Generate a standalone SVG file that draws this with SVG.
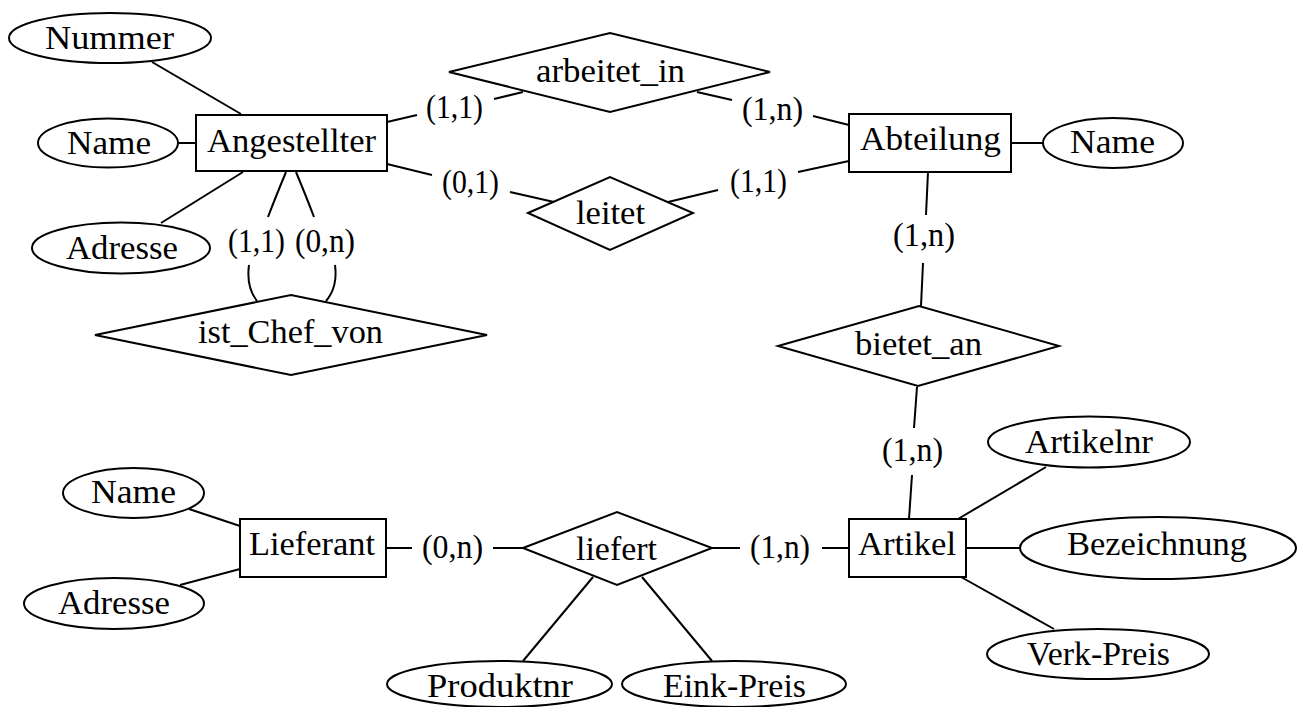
<svg xmlns="http://www.w3.org/2000/svg" width="1304" height="707" viewBox="0 0 1304 707">
<style>
.s{fill:#fff;stroke:#000;stroke-width:2}
.c line,.c path{stroke:#000;stroke-width:2;fill:none}
text{font-family:"Liberation Serif","Times New Roman",serif;font-size:33px;fill:#000;text-anchor:middle}
</style>
<rect width="1304" height="707" fill="#fff"/>
<g class="c" id="connectors">
<line x1="152" y1="62" x2="241" y2="114"/>
<line x1="178" y1="143" x2="196" y2="143"/>
<line x1="161" y1="223" x2="243" y2="172"/>
<path d="M286,172 Q276,196 268,217"/>
<path d="M249,265 Q246,287 257,301"/>
<path d="M296,172 Q306,196 314,217"/>
<path d="M335,265 Q338,287 326,301"/>
<line x1="387" y1="122" x2="417" y2="115"/>
<line x1="494" y1="99" x2="523" y2="92"/>
<line x1="697" y1="92" x2="732" y2="100"/>
<line x1="813" y1="116" x2="849" y2="125"/>
<line x1="387" y1="164" x2="432" y2="175"/>
<line x1="510" y1="192" x2="554" y2="202"/>
<line x1="668" y1="202" x2="718" y2="190"/>
<line x1="798" y1="172" x2="849" y2="161"/>
<line x1="1011" y1="143" x2="1043" y2="143"/>
<line x1="928" y1="172" x2="926" y2="215"/>
<line x1="923" y1="263" x2="921" y2="306"/>
<line x1="917" y1="387" x2="914" y2="428"/>
<line x1="912" y1="475" x2="909" y2="519"/>
<line x1="958" y1="519" x2="1046" y2="467"/>
<line x1="966" y1="548" x2="1020" y2="548"/>
<line x1="961" y1="577" x2="1054" y2="629"/>
<line x1="189" y1="509" x2="240" y2="526"/>
<line x1="180" y1="585" x2="240" y2="569"/>
<line x1="386" y1="548" x2="412" y2="548"/>
<line x1="493" y1="548" x2="523" y2="548"/>
<line x1="712" y1="548" x2="740" y2="548"/>
<line x1="822" y1="548" x2="849" y2="548"/>
<line x1="593" y1="577" x2="523" y2="661"/>
<line x1="642" y1="577" x2="712" y2="661"/>
<text x="454.5" y="118" textLength="57" lengthAdjust="spacingAndGlyphs">(1,1)</text>
<text x="772.5" y="120" textLength="61" lengthAdjust="spacingAndGlyphs">(1,n)</text>
<text x="470.5" y="193" textLength="57" lengthAdjust="spacingAndGlyphs">(0,1)</text>
<text x="758.5" y="192" textLength="57" lengthAdjust="spacingAndGlyphs">(1,1)</text>
<text x="256.5" y="252" textLength="57" lengthAdjust="spacingAndGlyphs">(1,1)</text>
<text x="325" y="252" textLength="60" lengthAdjust="spacingAndGlyphs">(0,n)</text>
<text x="924" y="246" textLength="62" lengthAdjust="spacingAndGlyphs">(1,n)</text>
<text x="912.5" y="461" textLength="61" lengthAdjust="spacingAndGlyphs">(1,n)</text>
<text x="452.5" y="558" textLength="61" lengthAdjust="spacingAndGlyphs">(0,n)</text>
<text x="780" y="558" textLength="60" lengthAdjust="spacingAndGlyphs">(1,n)</text>
</g>
<g id="Nummer"><ellipse class="s" cx="110" cy="38" rx="101" ry="25"/><text x="109.5" y="49" textLength="129" lengthAdjust="spacingAndGlyphs">Nummer</text></g>
<g id="NameAng"><ellipse class="s" cx="108" cy="143" rx="70" ry="24.5"/><text x="109" y="154" textLength="84" lengthAdjust="spacingAndGlyphs">Name</text></g>
<g id="AdresseAng"><ellipse class="s" cx="121" cy="248" rx="89" ry="25.5"/><text x="122" y="259" textLength="112" lengthAdjust="spacingAndGlyphs">Adresse</text></g>
<g id="Angestellter"><rect class="s" x="196" y="115" width="191" height="56"/><text x="291.5" y="152" textLength="169" lengthAdjust="spacingAndGlyphs">Angestellter</text></g>
<g id="ist_Chef_von"><polygon class="s" points="95,335 291,295 487,335 291,375"/><text x="290.5" y="343" textLength="185" lengthAdjust="spacingAndGlyphs">ist_Chef_von</text></g>
<g id="arbeitet_in"><polygon class="s" points="449,72 610,33 770,72 610,112"/><text x="610.5" y="82" textLength="149" lengthAdjust="spacingAndGlyphs">arbeitet_in</text></g>
<g id="leitet"><polygon class="s" points="528,213 610,177 693,213 610,250"/><text x="610.5" y="224" textLength="69" lengthAdjust="spacingAndGlyphs">leitet</text></g>
<g id="Abteilung"><rect class="s" x="849" y="114" width="162" height="58"/><text x="930.5" y="150" textLength="141" lengthAdjust="spacingAndGlyphs">Abteilung</text></g>
<g id="NameAbt"><ellipse class="s" cx="1113" cy="143" rx="70" ry="25"/><text x="1112.5" y="153" textLength="85" lengthAdjust="spacingAndGlyphs">Name</text></g>
<g id="bietet_an"><polygon class="s" points="778,346 919,306 1059,346 918,386"/><text x="918.5" y="355" textLength="127" lengthAdjust="spacingAndGlyphs">bietet_an</text></g>
<g id="Artikelnr"><ellipse class="s" cx="1089" cy="442" rx="101" ry="25.5"/><text x="1089" y="453" textLength="128" lengthAdjust="spacingAndGlyphs">Artikelnr</text></g>
<g id="Artikel"><rect class="s" x="849" y="519" width="117" height="58"/><text x="907" y="555" textLength="98" lengthAdjust="spacingAndGlyphs">Artikel</text></g>
<g id="Bezeichnung"><ellipse class="s" cx="1158" cy="548" rx="138" ry="31"/><text x="1157" y="555" textLength="180" lengthAdjust="spacingAndGlyphs">Bezeichnung</text></g>
<g id="Verk-Preis"><ellipse class="s" cx="1098" cy="654" rx="111" ry="25"/><text x="1098.5" y="665" textLength="143" lengthAdjust="spacingAndGlyphs">Verk-Preis</text></g>
<g id="NameLief"><ellipse class="s" cx="133.5" cy="493" rx="70.5" ry="25"/><text x="133.5" y="503" textLength="85" lengthAdjust="spacingAndGlyphs">Name</text></g>
<g id="AdresseLief"><ellipse class="s" cx="114" cy="603.5" rx="90" ry="25.5"/><text x="114" y="614" textLength="112" lengthAdjust="spacingAndGlyphs">Adresse</text></g>
<g id="Lieferant"><rect class="s" x="240" y="519" width="146" height="58"/><text x="312" y="555" textLength="126" lengthAdjust="spacingAndGlyphs">Lieferant</text></g>
<g id="liefert"><polygon class="s" points="523,548 617,512 712,548 617,585"/><text x="616.5" y="560" textLength="81" lengthAdjust="spacingAndGlyphs">liefert</text></g>
<g id="Produktnr"><ellipse class="s" cx="499.5" cy="684" rx="112.5" ry="23"/><text x="500" y="697" textLength="146" lengthAdjust="spacingAndGlyphs">Produktnr</text></g>
<g id="Eink-Preis"><ellipse class="s" cx="734" cy="684" rx="112" ry="23"/><text x="734.5" y="697" textLength="143" lengthAdjust="spacingAndGlyphs">Eink-Preis</text></g>
</svg>
